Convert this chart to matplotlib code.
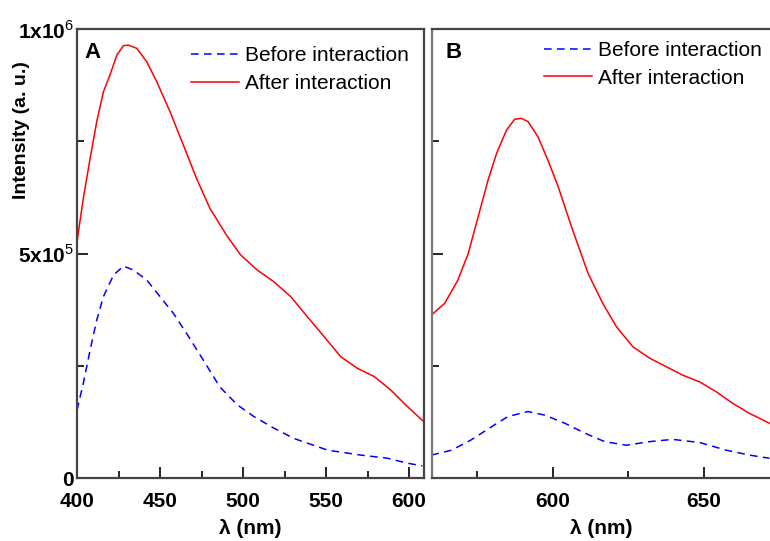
import matplotlib
matplotlib.use('Agg')
from matplotlib import pyplot as plt
from matplotlib.ticker import MultipleLocator

# Emission spectra, panel A (excitation series) and panel B
# --------------------------------------------------------------------------
wl_a_after = [400, 403.8, 407.9, 411.9, 415.9, 419.9, 424, 428, 431, 436, 442,
              448, 456, 464, 472, 480, 490, 498.5, 508.6, 518.6, 528.7, 538.8,
              548.8, 558.9, 569, 579, 589, 599, 609]
int_a_after = [0.526, 0.623, 0.712, 0.794, 0.860, 0.898, 0.942, 0.963, 0.964,
               0.957, 0.927, 0.883, 0.816, 0.742, 0.667, 0.601, 0.541, 0.497,
               0.463, 0.437, 0.404, 0.359, 0.315, 0.270, 0.244, 0.226, 0.196,
               0.159, 0.125]

wl_a_before = [400, 403.8, 407.9, 411.9, 415.9, 422, 428, 434, 442, 450, 458,
               466, 476, 486, 496.5, 506.5, 518.6, 530.7, 551, 571, 587, 599, 608]
int_a_before = [0.151, 0.211, 0.285, 0.352, 0.404, 0.452, 0.472, 0.463, 0.441,
                0.404, 0.367, 0.322, 0.263, 0.203, 0.163, 0.137, 0.111, 0.088,
                0.062, 0.051, 0.044, 0.033, 0.027]

wl_b_after = [559.8, 564.2, 568.6, 572, 575.3, 578.6, 581.4, 584.7, 587.4,
              589.6, 591.8, 595.1, 598.4, 601.8, 606.2, 611.7, 616.5, 621.1,
              626.6, 632.1, 637.6, 643.1, 648.7, 654.2, 659.7, 665.2, 671.8]
int_b_after = [0.363, 0.389, 0.441, 0.500, 0.582, 0.664, 0.723, 0.775, 0.799,
               0.801, 0.794, 0.760, 0.708, 0.649, 0.560, 0.456, 0.390, 0.337,
               0.292, 0.267, 0.248, 0.229, 0.214, 0.192, 0.166, 0.144, 0.122]

wl_b_before = [559.8, 566.5, 573, 579.7, 585.2, 591.8, 597.4, 604, 610.6,
               617.2, 624.4, 632.1, 639.8, 648.7, 657.5, 665.2, 671.8]
int_b_before = [0.051, 0.062, 0.085, 0.114, 0.137, 0.148, 0.140, 0.122, 0.100,
                0.081, 0.073, 0.081, 0.086, 0.079, 0.062, 0.051, 0.044]

ytick_vals = [0, 5e5, 1e6]
ytick_labels = ['0', r'$\mathbf{5x10}^{5}$', r'$\mathbf{1x10}^{6}$']
# --------------------------------------------------------------------------

plt.rcParams['font.family'] = 'Liberation Sans'
plt.rcParams['mathtext.fontset'] = 'custom'
plt.rcParams['mathtext.rm'] = 'Liberation Sans'
plt.rcParams['mathtext.bf'] = 'Liberation Sans:bold'

fig = plt.figure(figsize=(7.7, 5.41), dpi=100)
ax_a = fig.add_axes([77/770, 63/541, 347/770, 449/541])
ax_b = fig.add_axes([432/770, 63/541, 338/770, 449/541])

dash = (0, (5, 3.5))
for ax, wb, ib, wa, ia in [(ax_a, wl_a_before, int_a_before, wl_a_after, int_a_after),
                           (ax_b, wl_b_before, int_b_before, wl_b_after, int_b_after)]:
    ax.plot(wb, [v*1e6 for v in ib], color='blue', lw=1.1, ls=dash,
            label='Before interaction')
    ax.plot(wa, [v*1e6 for v in ia], color='red', lw=1.1,
            label='After interaction')
    ax.set_ylim(0, 1e6)
    ax.yaxis.set_minor_locator(MultipleLocator(2.5e5))
    ax.xaxis.set_minor_locator(MultipleLocator(25))
    ax.xaxis.set_major_locator(MultipleLocator(50))
    ax.tick_params(which='major', direction='in', length=8, width=1.2,
                   labelsize=15, pad=6)
    ax.tick_params(axis='x', which='major', pad=10)
    ax.tick_params(which='minor', direction='in', length=5, width=1.2)
    for lab in ax.get_xticklabels():
        lab.set_fontweight('bold')
    for sp in ax.spines.values():
        sp.set_color('#444444')
        sp.set_linewidth(1.6)
    ax.set_xlabel(u'\u03bb (nm)', fontsize=15, fontweight='bold', labelpad=6)

leg_a = ax_a.legend(loc='upper left', bbox_to_anchor=(0.305, 0.98), frameon=False,
                    fontsize=15, handlelength=2.3, handletextpad=0.3,
                    labelspacing=0.42, borderaxespad=0)
leg_b = ax_b.legend(loc='upper left', bbox_to_anchor=(0.306, 0.992), frameon=False,
                    fontsize=15, handlelength=2.3, handletextpad=0.3,
                    labelspacing=0.42, borderaxespad=0)

ax_a.set_xlim(400, 609)
ax_a.set_yticks(ytick_vals)
ax_a.set_yticklabels(ytick_labels)
for lab in ax_a.get_yticklabels():
    lab.set_fontweight('bold')
ax_a.tick_params(axis='y', pad=2)
ax_a.text(0.02, 0.97, 'A', transform=ax_a.transAxes, fontsize=16,
          fontweight='bold', va='top')

ax_b.set_xlim(560, 672)
ax_b.set_yticks(ytick_vals)
ax_b.set_yticklabels([])
ax_b.spines['right'].set_visible(False)
ax_b.spines['left'].set_color('#777777')
ax_b.text(0.04, 0.97, 'B', transform=ax_b.transAxes, fontsize=16,
          fontweight='bold', va='top')

fig.text(22/770, 1 - 130/541, 'Intensity (a. u.)', rotation=90, fontsize=14,
         fontweight='bold', ha='center', va='center')

fig.savefig('out.png', dpi=100)
